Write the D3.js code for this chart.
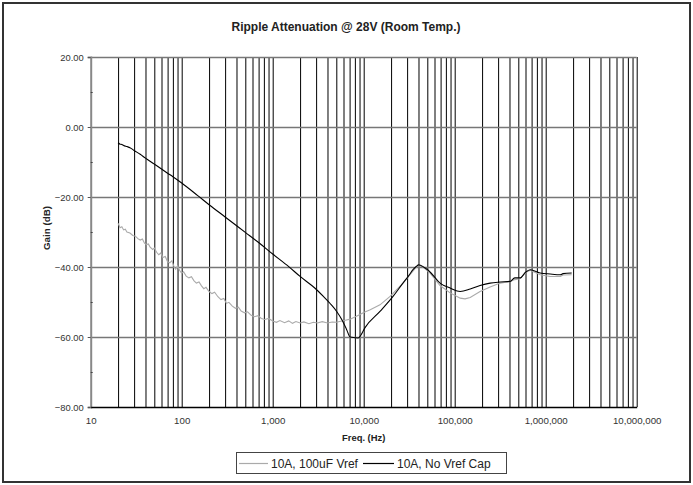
<!DOCTYPE html>
<html><head><meta charset="utf-8">
<script src="https://cdn.jsdelivr.net/npm/d3@7"></script>
<style>
html,body{margin:0;padding:0;background:#fff;}
svg{display:block;font-family:"Liberation Sans",Arial,sans-serif;}
</style></head>
<body><svg id="c" width="693" height="485"></svg>
<script>
const title = "Ripple Attenuation @ 28V (Room Temp.)";
const xTitle = "Freq. (Hz)";
const yTitle = "Gain (dB)";
const seriesNames = ["10A, 100uF Vref", "10A, No Vref Cap"];
const xTickValues = [10, 100, 1000, 10000, 100000, 1000000, 10000000];
const yTickValues = [20, 0, -20, -40, -60, -80];

// 10A, No Vref Cap (black)
const freqBlack = [20,21,22,23,25,27,30,35,40,50,60,70,80,100,150,200,300,500,700,1000,1500,2000,2900,3600,4300,5050,5800,6500,7100,8000,8700,9300,10300,15100,21000,27000,31000,35000,38000,40000,42000,45000,50000,54000,69000,89000,115000,148000,190000,245000,316000,407000,457000,525000,600000,676000,870000,1120000,1450000,1550000,1930000];
const gainBlack = [-4.5,-4.9,-5.0,-5.3,-5.6,-5.9,-6.7,-7.8,-8.9,-10.6,-12.0,-13.2,-14.2,-16.0,-19.6,-22.2,-25.7,-30.1,-33.0,-36.3,-39.9,-42.7,-46.0,-48.4,-50.5,-52.7,-55.2,-57.9,-60.0,-60.2,-60.3,-59.5,-57.4,-52.7,-48.4,-44.6,-42.6,-40.7,-39.8,-39.4,-39.5,-39.9,-40.7,-41.5,-44.6,-46.0,-47.0,-46.3,-45.3,-44.6,-44.3,-44.1,-43.1,-43.1,-41.5,-40.8,-41.7,-42.0,-42.2,-41.9,-41.7];

// 10A, 100uF Vref (gray)
const freqGray = [20,21,22,23,24,25,27,29,31,33,35,37,39,41,43,45,48,50,53,56,59,62,66,70,74,78,82,86,90,95,100,105,112,120,128,136,145,155,165,175,185,200,215,230,250,270,290,310,330,360,390,420,450,490,530,580,630,690,750,820,900,1000,1100,1200,1350,1500,1650,1800,2000,2200,2500,2800,3100,3500,4000,4500,5000,5600,6300,7100,8000,9100,10000,11800,15100,19500,27000,33000,38000,40000,45000,54000,69000,89000,115000,130000,148000,190000,245000,316000,407000,457000,525000,600000,676000,870000,1120000,1450000,1550000,1930000];
const gainGray = [-27.5,-28.8,-28.5,-29.4,-29.2,-30.0,-30.3,-31.0,-31.2,-31.9,-32.3,-32.0,-33.2,-33.6,-33.4,-34.3,-35.0,-34.6,-35.8,-36.5,-36.0,-37.3,-37.0,-38.5,-38.8,-38.2,-39.8,-40.6,-39.7,-41.0,-41.8,-41.4,-42.6,-43.1,-42.8,-43.9,-44.6,-44.3,-45.4,-46.2,-45.8,-47.0,-47.6,-47.2,-48.5,-49.3,-49.0,-50.4,-50.1,-51.2,-51.8,-51.5,-52.6,-53.1,-52.8,-53.8,-54.2,-53.9,-54.7,-55.0,-54.7,-55.4,-55.8,-55.3,-55.9,-55.4,-56.1,-55.6,-56.0,-55.7,-56.2,-55.8,-56.0,-55.6,-56.0,-55.7,-55.8,-55.5,-55.2,-54.9,-54.3,-53.6,-53.0,-52.2,-50.8,-48.4,-44.6,-41.9,-40.0,-39.6,-40.0,-41.8,-45.3,-47.4,-48.9,-49.1,-48.7,-47.0,-45.7,-44.6,-44.1,-43.6,-43.3,-41.6,-40.9,-42.2,-42.7,-42.7,-42.3,-42.2];

const svg = d3.select("#c");
const L = 90.7, R = 636.7, T = 57, B = 407;
const x = d3.scaleLog().domain([10, 1e7]).range([L, R]);
const y = d3.scaleLinear().domain([-80, 20]).range([B, T]);

// outer border
svg.append("rect").attr("x",3).attr("y",3).attr("width",687).attr("height",479)
  .attr("fill","none").attr("stroke","#333").attr("stroke-width",2);

// vertical gridlines (log minor/major)
const vGrid = [];
for (let k = 1; k <= 6; k++) for (let m = 1; m <= 9; m++) { const v = m * Math.pow(10, k); if (v > 10) vGrid.push(v); }
vGrid.push(1e7);
svg.append("g").attr("transform",`translate(0,${B})`)
  .call(d3.axisBottom(x).tickValues(vGrid).tickSize(-(B - T)).tickFormat(""))
  .call(g => g.select(".domain").remove())
  .call(g => g.selectAll(".tick line").attr("stroke","#000").attr("stroke-width",1));

// horizontal gridlines
svg.append("g").attr("transform",`translate(${L},0)`)
  .call(d3.axisLeft(y).tickValues([20,0,-20,-40,-60]).tickSize(-(R - L)).tickFormat(""))
  .call(g => g.select(".domain").remove())
  .call(g => g.selectAll(".tick line").attr("stroke","#777").attr("stroke-width",1.3));

// y axis with labels
const yAx = svg.append("g").attr("transform",`translate(${L},0)`)
  .call(d3.axisLeft(y).tickValues(yTickValues).tickSize(3).tickPadding(4).tickFormat(d3.format(".2f")));
yAx.select(".domain").attr("stroke","#888").attr("stroke-width",2);
yAx.selectAll(".tick line").attr("stroke","#555");
yAx.selectAll("text").attr("font-size","9.4px").attr("fill","#333").attr("font-family","Liberation Sans, Arial, sans-serif");
// y minor ticks
svg.append("g").attr("transform",`translate(${L},0)`)
  .call(d3.axisRight(y).tickValues([10,-10,-30,-50,-70]).tickSize(2).tickFormat(""))
  .call(g => g.select(".domain").remove())
  .call(g => g.selectAll(".tick line").attr("stroke","#444"));

// x axis with labels
const xAx = svg.append("g").attr("transform",`translate(0,${B})`)
  .call(d3.axisBottom(x).tickValues(xTickValues).tickSize(0).tickPadding(10).tickFormat(d3.format(",")));
xAx.select(".domain").attr("stroke","#000").attr("stroke-width",1.5);
xAx.selectAll("text").attr("font-size","9.7px").attr("fill","#333").attr("font-family","Liberation Sans, Arial, sans-serif");

// lines
const line = d3.line().x(d => x(d[0])).y(d => y(d[1]));
const smooth = d3.line().x(d => x(d[0])).y(d => y(d[1])).curve(d3.curveMonotoneX);
const grayData = freqGray.map((f, i) => [f, gainGray[i]]);
const blackData = freqBlack.map((f, i) => [f, gainBlack[i]]);
svg.append("path").datum(grayData).attr("d", line).attr("fill","none").attr("stroke","#aaa").attr("stroke-width",1.1);
svg.append("path").datum(blackData).attr("d", smooth).attr("fill","none").attr("stroke","#000").attr("stroke-width",1.1);

// titles
svg.append("text").attr("x",346).attr("y",31).attr("text-anchor","middle")
  .attr("font-size","12px").attr("font-weight","bold").attr("fill","#222").text(title);
svg.append("text").attr("x",(L+R)/2).attr("y",441).attr("text-anchor","middle")
  .attr("font-size","9.4px").attr("font-weight","bold").attr("fill","#222").text(xTitle);
svg.append("text").attr("transform","translate(47,228) rotate(-90)").attr("text-anchor","middle")
  .attr("dy","0.35em")
  .attr("font-size","9.8px").attr("font-weight","bold").attr("fill","#222").text(yTitle);

// legend
const lg = svg.append("g");
lg.append("rect").attr("x",236.5).attr("y",452.5).attr("width",270).attr("height",21)
  .attr("fill","#fff").attr("stroke","#444").attr("stroke-width",1);
const legendItems = [
  {name: seriesNames[0], color:"#aaa", x0:239, x1:268, tx:271},
  {name: seriesNames[1], color:"#000", x0:363, x1:394, tx:397}
];
legendItems.forEach(it => {
  lg.append("line").attr("x1",it.x0).attr("x2",it.x1).attr("y1",463.5).attr("y2",463.5)
    .attr("stroke",it.color).attr("stroke-width",1.2);
  lg.append("text").attr("x",it.tx).attr("y",468).attr("font-size","12px").attr("fill","#222").text(it.name);
});
</script></body></html>
